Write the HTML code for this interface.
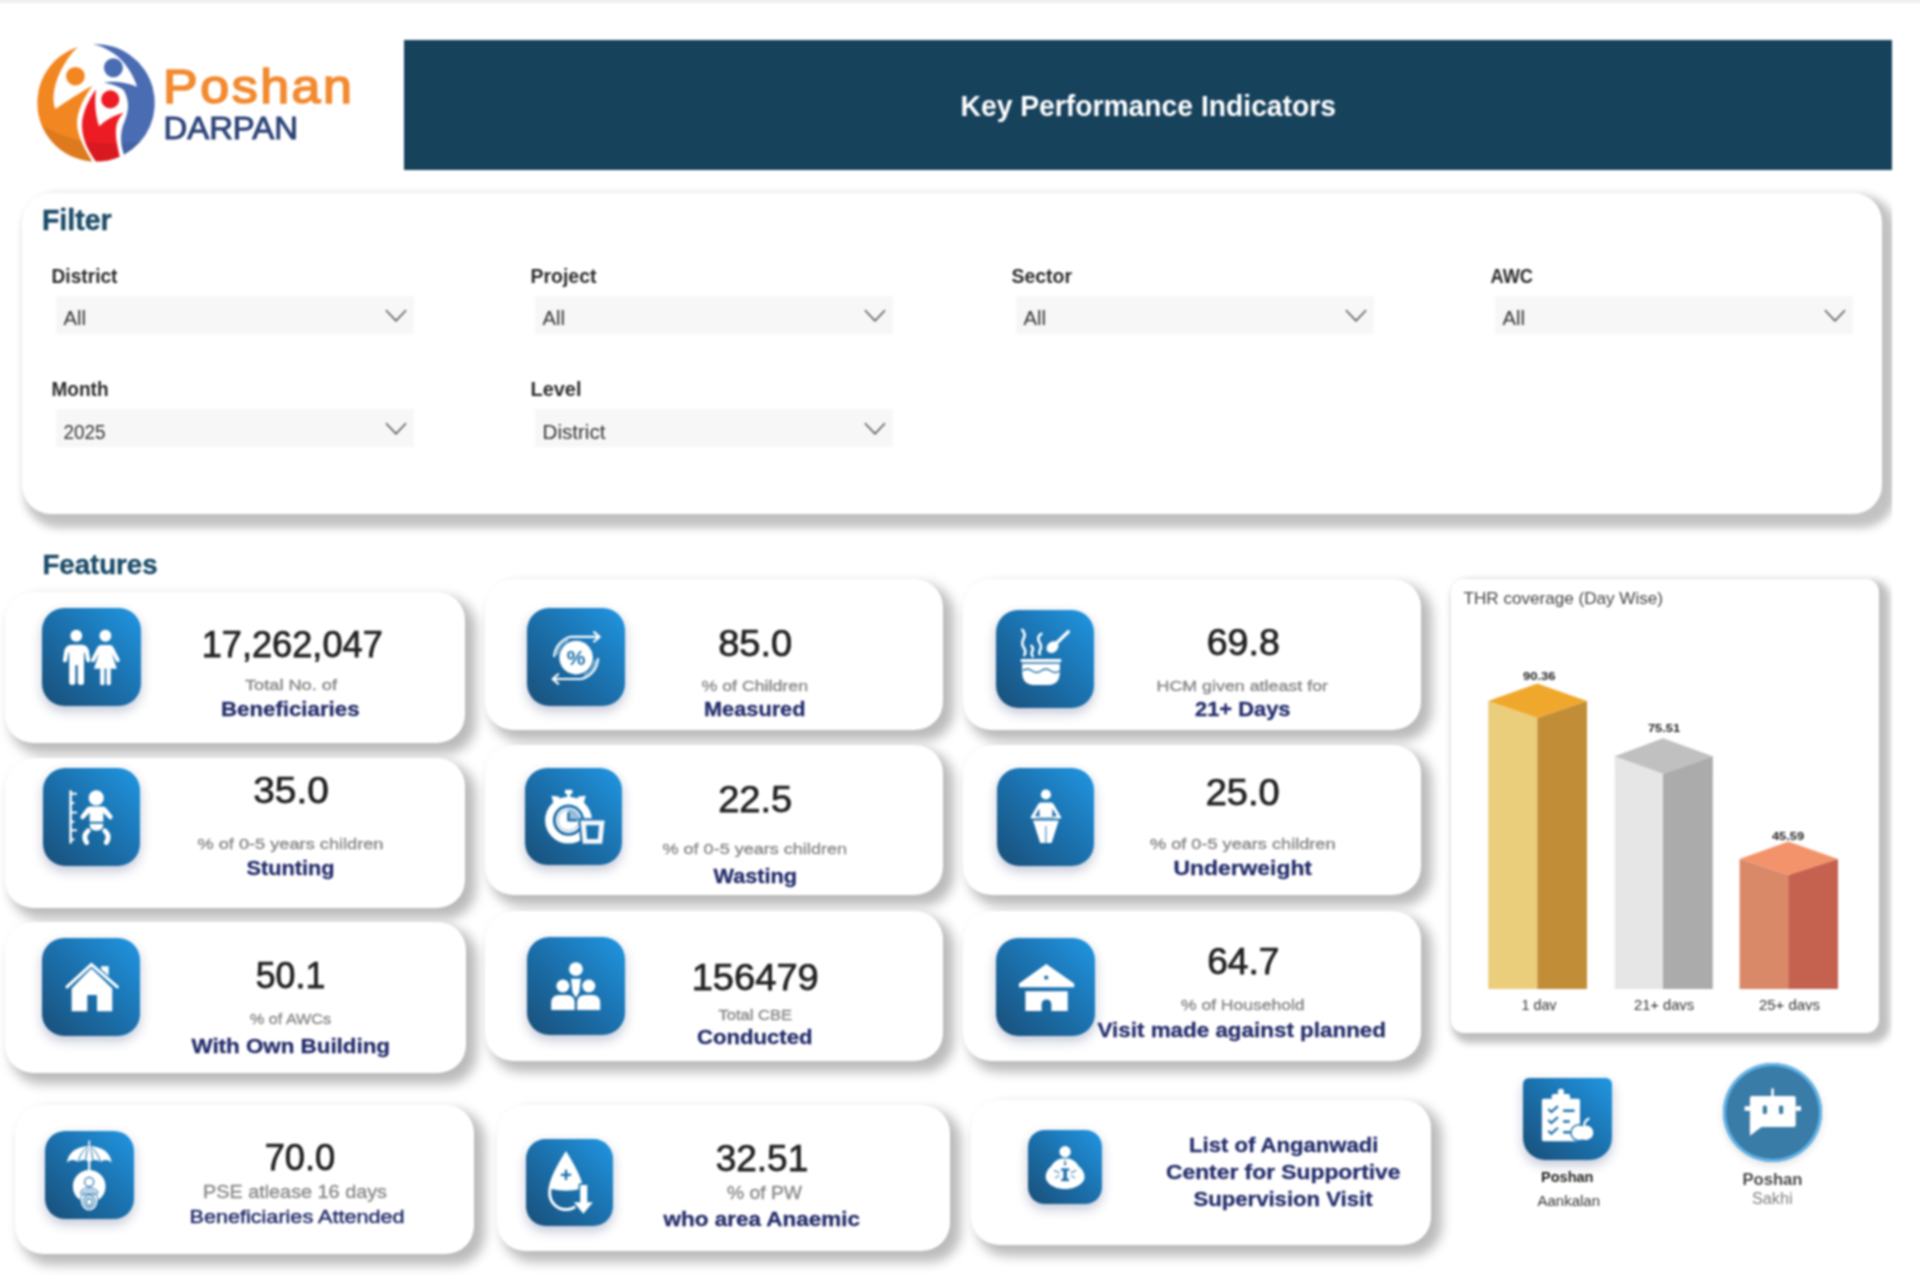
<!DOCTYPE html>
<html lang="en"><head><meta charset="utf-8"><title>Poshan Darpan - Key Performance Indicators</title>
<style>
html,body{margin:0;padding:0;background:#fff}
body{width:1920px;height:1279px;position:relative;overflow:hidden;font-family:"Liberation Sans",sans-serif}
.page{position:absolute;left:0;top:0;width:1920px;height:1279px;filter:blur(.8px)}
.topline{position:absolute;left:-10px;top:-7px;width:1940px;height:10px;background:#efefef}
.hdr{position:absolute;left:404px;top:40px;width:1488px;height:130px;background:#17425c}
.panel{position:absolute;background:#fff;border-radius:29px;box-shadow:8px 8px 9px 6px rgba(0,0,0,.24),0 0 2px rgba(0,0,0,.06)}
.card{position:absolute;background:#fff;border-radius:28px;box-shadow:8px 8px 12px 3px rgba(0,0,0,.27),0 0 1.5px rgba(0,0,0,.06)}
.chart{position:absolute;background:#fff;border-radius:13px;box-shadow:6px 5.5px 7px 4.5px rgba(0,0,0,.25),0 0 2px rgba(0,0,0,.06)}
.clipr{position:absolute;left:1892px;top:3px;width:28px;height:1276px;background:#fff}
.tile{position:absolute;border-radius:22px;background:linear-gradient(to bottom left,#2096e2 0%,#1b70ac 50%,#194f79 100%);box-shadow:0 5px 12px rgba(40,55,110,.28)}
.dd{position:absolute;background:#f7f7f7;width:358px;height:38px}
svg.ov{position:absolute;left:0;top:0}
</style></head><body><div class="page">
<div class="topline"></div>
<div class="hdr"></div>
<div class="panel" style="left:22px;top:193px;width:1860px;height:321px;"></div>
<div class="dd" style="left:55.5px;top:296px;width:358px;height:38px;"></div>
<div class="dd" style="left:534.5px;top:296px;width:358px;height:38px;"></div>
<div class="dd" style="left:1015.5px;top:296px;width:358px;height:38px;"></div>
<div class="dd" style="left:1494.5px;top:296px;width:358px;height:38px;"></div>
<div class="dd" style="left:55.5px;top:409px;width:358px;height:38px;"></div>
<div class="dd" style="left:534.5px;top:409px;width:358px;height:38px;"></div>
<div class="card" style="left:5px;top:592px;width:460px;height:151px;"></div>
<div class="card" style="left:485px;top:579px;width:458px;height:151px;"></div>
<div class="card" style="left:962.5px;top:579px;width:458px;height:151px;"></div>
<div class="card" style="left:5px;top:758px;width:460px;height:150px;"></div>
<div class="card" style="left:485px;top:745px;width:458px;height:150px;"></div>
<div class="card" style="left:962.5px;top:745px;width:458px;height:150px;"></div>
<div class="card" style="left:5px;top:922px;width:461px;height:151px;"></div>
<div class="card" style="left:485px;top:910.5px;width:458px;height:150px;"></div>
<div class="card" style="left:962.5px;top:910.5px;width:458px;height:150px;"></div>
<div class="card" style="left:15px;top:1104.5px;width:459px;height:149.5px;"></div>
<div class="card" style="left:497px;top:1104.5px;width:453px;height:146.5px;"></div>
<div class="card" style="left:971px;top:1100px;width:460px;height:145px;"></div>
<div class="tile" style="left:42.3px;top:607.5px;width:98.3px;height:98.3px;border-radius:22.1px"></div>
<div class="tile" style="left:527.3px;top:607.8px;width:98px;height:98px;border-radius:22.1px"></div>
<div class="tile" style="left:996.3px;top:609.8px;width:98px;height:98px;border-radius:22.1px"></div>
<div class="tile" style="left:42.5px;top:768px;width:97.7px;height:97.7px;border-radius:22.0px"></div>
<div class="tile" style="left:525.2px;top:768.2px;width:97.2px;height:97.2px;border-radius:21.9px"></div>
<div class="tile" style="left:996.8px;top:768.2px;width:97.6px;height:97.6px;border-radius:22.0px"></div>
<div class="tile" style="left:42.4px;top:938.2px;width:97.8px;height:97.8px;border-radius:22.0px"></div>
<div class="tile" style="left:527.3px;top:937.2px;width:98px;height:98px;border-radius:22.1px"></div>
<div class="tile" style="left:996.3px;top:937.8px;width:98.3px;height:98.3px;border-radius:22.1px"></div>
<div class="tile" style="left:45px;top:1130.5px;width:88.7px;height:88.7px;border-radius:20.0px"></div>
<div class="tile" style="left:525.8px;top:1138.8px;width:87px;height:87px;border-radius:19.6px"></div>
<div class="tile" style="left:1028px;top:1130.4px;width:73.6px;height:73.6px;border-radius:16.6px"></div>
<div class="chart" style="left:1451px;top:578.5px;width:427.5px;height:454.5px;"></div>
<div class="clipr"></div>
<div class="tile" style="left:1522.5px;top:1077.5px;width:89.5px;height:82.5px;border-radius:6px 6px 22px 22px;background:linear-gradient(to bottom left,#2096e2 0%,#1b70ac 50%,#194f79 100%)"></div>
<div style="position:absolute;left:1723.3px;top:1063.3px;width:99px;height:99px;border-radius:50%;background:#3a7ca8;box-shadow:inset 0 0 0 3px #62b4ea,0 3px 8px rgba(0,0,0,.12)"></div>
<svg class="ov" width="1920" height="1279" viewBox="0 0 1920 1279" font-family='"Liberation Sans", sans-serif'>
<text x="960.5" y="116.4" font-size="29.5" fill="#fff" font-weight="bold" textLength="375.5" lengthAdjust="spacingAndGlyphs">Key Performance Indicators</text>
<text x="163" y="102.5" font-size="48" fill="#f28a30" textLength="191.5" lengthAdjust="spacingAndGlyphs" stroke="#f28a30" stroke-width="1.7" letter-spacing="2.4">Poshan</text>
<text x="163.5" y="138.8" font-size="31.5" fill="#2d4479" textLength="134.5" lengthAdjust="spacingAndGlyphs" stroke="#2d4479" stroke-width="1.0">DARPAN</text>
<text x="42" y="229.5" font-size="29.5" fill="#1b4b68" font-weight="bold" textLength="69.5" lengthAdjust="spacingAndGlyphs" stroke="#1b4b68" stroke-width="0.4">Filter</text>
<text x="51.5" y="283" font-size="21" fill="#2b2b2b" font-weight="bold" textLength="66.0" lengthAdjust="spacingAndGlyphs">District</text>
<text x="63.5" y="325.3" font-size="20.5" fill="#333" textLength="22.5" lengthAdjust="spacingAndGlyphs">All</text>
<text x="530.5" y="283" font-size="21" fill="#2b2b2b" font-weight="bold" textLength="66.0" lengthAdjust="spacingAndGlyphs">Project</text>
<text x="542.5" y="325.3" font-size="20.5" fill="#333" textLength="22.5" lengthAdjust="spacingAndGlyphs">All</text>
<text x="1011.5" y="283" font-size="21" fill="#2b2b2b" font-weight="bold" textLength="60.5" lengthAdjust="spacingAndGlyphs">Sector</text>
<text x="1023.5" y="325.3" font-size="20.5" fill="#333" textLength="22.5" lengthAdjust="spacingAndGlyphs">All</text>
<text x="1490.5" y="283" font-size="21" fill="#2b2b2b" font-weight="bold" textLength="42.5" lengthAdjust="spacingAndGlyphs">AWC</text>
<text x="1502.5" y="325.3" font-size="20.5" fill="#333" textLength="22.5" lengthAdjust="spacingAndGlyphs">All</text>
<text x="51.5" y="396" font-size="21" fill="#2b2b2b" font-weight="bold" textLength="57.0" lengthAdjust="spacingAndGlyphs">Month</text>
<text x="63.5" y="438.5" font-size="20.5" fill="#333" textLength="42.0" lengthAdjust="spacingAndGlyphs">2025</text>
<text x="530.5" y="396" font-size="21" fill="#2b2b2b" font-weight="bold" textLength="51.0" lengthAdjust="spacingAndGlyphs">Level</text>
<text x="542.5" y="438.5" font-size="20.5" fill="#333" textLength="63.0" lengthAdjust="spacingAndGlyphs">District</text>
<polyline points="386.0,310.2 396.0,320.8 406.0,310.2" fill="none" stroke="#5a5a5a" stroke-width="1.6"/>
<polyline points="865.0,310.2 875.0,320.8 885.0,310.2" fill="none" stroke="#5a5a5a" stroke-width="1.6"/>
<polyline points="1346.0,310.2 1356.0,320.8 1366.0,310.2" fill="none" stroke="#5a5a5a" stroke-width="1.6"/>
<polyline points="1825.0,310.2 1835.0,320.8 1845.0,310.2" fill="none" stroke="#5a5a5a" stroke-width="1.6"/>
<polyline points="386.0,423.2 396.0,433.8 406.0,423.2" fill="none" stroke="#5a5a5a" stroke-width="1.6"/>
<polyline points="865.0,423.2 875.0,433.8 885.0,423.2" fill="none" stroke="#5a5a5a" stroke-width="1.6"/>
<text x="42.5" y="573.8" font-size="28.5" fill="#1b4b68" font-weight="bold" textLength="115.0" lengthAdjust="spacingAndGlyphs" stroke="#1b4b68" stroke-width="0.4">Features</text>
<text x="201.7" y="656.9" font-size="36.5" fill="#222" textLength="181.1" lengthAdjust="spacingAndGlyphs" stroke="#222" stroke-width="0.75">17,262,047</text>
<text x="245" y="690" font-size="15.5" fill="#8a8a8a" textLength="92" lengthAdjust="spacingAndGlyphs" stroke="#8a8a8a" stroke-width="0.4">Total No. of</text>
<text x="221" y="716.4" font-size="20.5" fill="#232c6a" font-weight="bold" textLength="138.5" lengthAdjust="spacingAndGlyphs" stroke="#232c6a" stroke-width="0.3">Beneficiaries</text>
<text x="718.2" y="655.8" font-size="36" fill="#222" textLength="74.1" lengthAdjust="spacingAndGlyphs" stroke="#222" stroke-width="0.75">85.0</text>
<text x="701.5" y="690.6" font-size="15.5" fill="#8a8a8a" textLength="106.5" lengthAdjust="spacingAndGlyphs" stroke="#8a8a8a" stroke-width="0.4">% of Children</text>
<text x="704" y="716.4" font-size="20.5" fill="#232c6a" font-weight="bold" textLength="101.5" lengthAdjust="spacingAndGlyphs" stroke="#232c6a" stroke-width="0.3">Measured</text>
<text x="1206.7" y="654.9" font-size="36" fill="#222" textLength="73.1" lengthAdjust="spacingAndGlyphs" stroke="#222" stroke-width="0.75">69.8</text>
<text x="1156.5" y="690.6" font-size="15.5" fill="#8a8a8a" textLength="171.5" lengthAdjust="spacingAndGlyphs" stroke="#8a8a8a" stroke-width="0.4">HCM given atleast for</text>
<text x="1195" y="716.4" font-size="20.5" fill="#232c6a" font-weight="bold" textLength="95.5" lengthAdjust="spacingAndGlyphs" stroke="#232c6a" stroke-width="0.3">21+ Days</text>
<text x="253.2" y="803.3" font-size="36.5" fill="#222" textLength="75.6" lengthAdjust="spacingAndGlyphs" stroke="#222" stroke-width="0.75">35.0</text>
<text x="197.5" y="849" font-size="15.5" fill="#8a8a8a" textLength="186.0" lengthAdjust="spacingAndGlyphs" stroke="#8a8a8a" stroke-width="0.4">% of 0-5 years children</text>
<text x="246.5" y="875.3" font-size="20.5" fill="#232c6a" font-weight="bold" textLength="88.0" lengthAdjust="spacingAndGlyphs" stroke="#232c6a" stroke-width="0.3">Stunting</text>
<text x="718.2" y="812.0" font-size="36.5" fill="#222" textLength="74.1" lengthAdjust="spacingAndGlyphs" stroke="#222" stroke-width="0.75">22.5</text>
<text x="662.5" y="854" font-size="15.5" fill="#8a8a8a" textLength="184.5" lengthAdjust="spacingAndGlyphs" stroke="#8a8a8a" stroke-width="0.4">% of 0-5 years children</text>
<text x="713.5" y="882.8" font-size="20.5" fill="#232c6a" font-weight="bold" textLength="83.5" lengthAdjust="spacingAndGlyphs" stroke="#232c6a" stroke-width="0.3">Wasting</text>
<text x="1205.7" y="805.0" font-size="36" fill="#222" textLength="74.1" lengthAdjust="spacingAndGlyphs" stroke="#222" stroke-width="0.75">25.0</text>
<text x="1150" y="849" font-size="15.5" fill="#8a8a8a" textLength="185.5" lengthAdjust="spacingAndGlyphs" stroke="#8a8a8a" stroke-width="0.4">% of 0-5 years children</text>
<text x="1173.5" y="874.8" font-size="20.5" fill="#232c6a" font-weight="bold" textLength="138.5" lengthAdjust="spacingAndGlyphs" stroke="#232c6a" stroke-width="0.3">Underweight</text>
<text x="255.7" y="988.2" font-size="36.5" fill="#222" textLength="69.6" lengthAdjust="spacingAndGlyphs" stroke="#222" stroke-width="0.75">50.1</text>
<text x="250" y="1024.4" font-size="15.5" fill="#8a8a8a" textLength="81" lengthAdjust="spacingAndGlyphs" stroke="#8a8a8a" stroke-width="0.4">% of AWCs</text>
<text x="191.5" y="1052.6" font-size="20.5" fill="#232c6a" font-weight="bold" textLength="198.5" lengthAdjust="spacingAndGlyphs" stroke="#232c6a" stroke-width="0.3">With Own Building</text>
<text x="691.7" y="989.7" font-size="36.5" fill="#222" textLength="127.1" lengthAdjust="spacingAndGlyphs" stroke="#222" stroke-width="0.75">156479</text>
<text x="718.5" y="1020" font-size="15.5" fill="#8a8a8a" textLength="73.5" lengthAdjust="spacingAndGlyphs" stroke="#8a8a8a" stroke-width="0.4">Total CBE</text>
<text x="697" y="1044.3" font-size="20.5" fill="#232c6a" font-weight="bold" textLength="115.5" lengthAdjust="spacingAndGlyphs" stroke="#232c6a" stroke-width="0.3">Conducted</text>
<text x="1207.2" y="974.0" font-size="36" fill="#222" textLength="72.1" lengthAdjust="spacingAndGlyphs" stroke="#222" stroke-width="0.75">64.7</text>
<text x="1181" y="1010.2" font-size="15.5" fill="#8a8a8a" textLength="123.5" lengthAdjust="spacingAndGlyphs" stroke="#8a8a8a" stroke-width="0.4">% of Household</text>
<text x="1097.5" y="1036.9" font-size="20.5" fill="#232c6a" font-weight="bold" textLength="288.5" lengthAdjust="spacingAndGlyphs" stroke="#232c6a" stroke-width="0.3">Visit made against planned</text>
<text x="264.7" y="1169.5" font-size="36" fill="#222" textLength="70.6" lengthAdjust="spacingAndGlyphs" stroke="#222" stroke-width="0.75">70.0</text>
<text x="203" y="1197.8" font-size="19" fill="#8a8a8a" textLength="184" lengthAdjust="spacingAndGlyphs" stroke="#8a8a8a" stroke-width="0.4">PSE atlease 16 days</text>
<text x="189.5" y="1223" font-size="19" fill="#232c6a" textLength="215.0" lengthAdjust="spacingAndGlyphs" stroke="#232c6a" stroke-width="0.5">Beneficiaries Attended</text>
<text x="715.7" y="1171.3" font-size="36" fill="#222" textLength="92.6" lengthAdjust="spacingAndGlyphs" stroke="#222" stroke-width="0.75">32.51</text>
<text x="727" y="1199.3" font-size="19" fill="#8a8a8a" textLength="75" lengthAdjust="spacingAndGlyphs" stroke="#8a8a8a" stroke-width="0.4">% of PW</text>
<text x="663.5" y="1226" font-size="19.5" fill="#232c6a" font-weight="bold" textLength="196.5" lengthAdjust="spacingAndGlyphs" stroke="#232c6a" stroke-width="0.3">who area Anaemic</text>
<text x="1189" y="1151.9" font-size="20.5" fill="#232c6a" font-weight="bold" textLength="189.5" lengthAdjust="spacingAndGlyphs" stroke="#232c6a" stroke-width="0.3">List of Anganwadi</text>
<text x="1166" y="1179" font-size="20.5" fill="#232c6a" font-weight="bold" textLength="234.5" lengthAdjust="spacingAndGlyphs" stroke="#232c6a" stroke-width="0.3">Center for Supportive</text>
<text x="1193.5" y="1206" font-size="20.5" fill="#232c6a" font-weight="bold" textLength="179.0" lengthAdjust="spacingAndGlyphs" stroke="#232c6a" stroke-width="0.3">Supervision Visit</text>
<text x="1463.5" y="603.5" font-size="17" fill="#444" textLength="199.5" lengthAdjust="spacingAndGlyphs">THR coverage (Day Wise)</text>
<polygon points="1488.2,701 1537.3,717.9 1537.3,989 1488.2,989" fill="#ebce7c"/>
<polygon points="1537.3,717.9 1587,701 1587,989 1537.3,989" fill="#c18d36"/>
<polygon points="1488.2,701 1537.3,683.4 1587,701 1537.3,717.9" fill="#efa82c"/>
<polygon points="1614.7,756.2 1663,773.8 1663,989 1614.7,989" fill="#e6e6e6"/>
<polygon points="1663,773.8 1712.8,756.2 1712.8,989 1663,989" fill="#ababab"/>
<polygon points="1614.7,756.2 1663,738.2 1712.8,756.2 1663,773.8" fill="#c0c0c0"/>
<polygon points="1739.6,858.9 1788.2,875 1788.2,989 1739.6,989" fill="#d98868"/>
<polygon points="1788.2,875 1838,858.9 1838,989 1788.2,989" fill="#c4614f"/>
<polygon points="1739.6,858.9 1788.2,841.6 1838,858.9 1788.2,875" fill="#f3936b"/>
<text x="1523" y="679.5" font-size="11.5" fill="#222" font-weight="bold" textLength="32.5" lengthAdjust="spacingAndGlyphs">90.36</text>
<text x="1648" y="732" font-size="11.5" fill="#222" font-weight="bold" textLength="32" lengthAdjust="spacingAndGlyphs">75.51</text>
<text x="1772" y="840" font-size="11.5" fill="#222" font-weight="bold" textLength="32" lengthAdjust="spacingAndGlyphs">45.59</text>
<clipPath id="axc"><rect x="1460" y="990" width="410" height="20.5"/></clipPath>
<g clip-path="url(#axc)">
<text x="1521.5" y="1010" font-size="14.5" fill="#333" textLength="35.0" lengthAdjust="spacingAndGlyphs">1 day</text>
<text x="1634" y="1010" font-size="14.5" fill="#333" textLength="60" lengthAdjust="spacingAndGlyphs">21+ days</text>
<text x="1759" y="1010" font-size="14.5" fill="#333" textLength="61" lengthAdjust="spacingAndGlyphs">25+ days</text>
</g>
<text x="1541" y="1182" font-size="15" fill="#222" font-weight="bold" textLength="52.5" lengthAdjust="spacingAndGlyphs">Poshan</text>
<text x="1537.5" y="1205.8" font-size="14" fill="#333" textLength="62.5" lengthAdjust="spacingAndGlyphs">Aankalan</text>
<text x="1742.5" y="1185" font-size="16" fill="#4a4a4a" font-weight="bold" textLength="60.0" lengthAdjust="spacingAndGlyphs">Poshan</text>
<text x="1752" y="1203.6" font-size="16" fill="#808080" textLength="40.5" lengthAdjust="spacingAndGlyphs">Sakhi</text>
<g transform="translate(42.3,607.5) scale(1.0031)" fill="#fff"><circle cx="33.9" cy="28.2" r="5.9"/>
<path d="M30,37.2H38.5Q44.5,37.2 46.4,42.5L47.8,52Q48,54.6 45.8,54.6Q43.9,54.6 43.6,52.5L42.4,45H41.6V74.8Q41.6,77.2 38.5,77.2Q35.3,77.2 35.3,74.8V57.5H33V74.8Q33,77.2 29.9,77.2Q26.8,77.2 26.8,74.8V45H26L24.8,52.5Q24.5,54.6 22.6,54.6Q20.4,54.6 20.6,52L22,42.5Q23.9,37.2 30,37.2Z"/>
<circle cx="62.9" cy="28.2" r="5.9"/>
<path d="M58.5,37.5H67.3Q70,37.5 71,40L77,51.5Q77.8,53.6 76,54.3Q74.3,55 73.3,53L69.3,45.5L74.3,61H51.5L56.5,45.5L52.5,53Q51.5,55 49.8,54.3Q48,53.6 48.8,51.5L54.8,40Q55.8,37.5 58.5,37.5Z"/>
<rect x="57.7" y="60" width="4.4" height="17.4" rx="2"/><rect x="63.9" y="60" width="4.4" height="17.4" rx="2"/></g>
<g transform="translate(42.5,768) scale(0.9969)" fill="#fff"><rect x="27" y="22.4" width="2.5" height="53.3"/>
<g stroke="#fff" stroke-width="2"><path d="M28,25.9H34.5M28,35H32M28,44.7H34.5M28,53.9H32M28,62.5H34.5M28,71.7H32"/></g>
<circle cx="53.9" cy="30" r="7.6"/>
<path d="M48,38.6H60Q63,38.6 64.5,40.8L70,48Q71,50 69.3,51.2Q67.5,52.2 66.2,50.5L61,45V54H47.3V45L42,50.5Q40.7,52.2 39,51.2Q37.3,50 38.3,48L43.7,40.8Q45,38.6 48,38.6Z"/>
<path d="M47.3,56H61Q61,63 54.1,63Q47.3,63 47.3,56Z"/>
<g fill="none" stroke="#fff" stroke-width="5" stroke-linecap="round"><path d="M45.8,63Q40,68.5 44.2,74.7"/><path d="M62.5,63Q68.3,68.5 64.1,74.7"/></g></g>
<g transform="translate(42.4,938.2) scale(0.9980)" fill="#fff"><mask id="mk6" maskUnits="userSpaceOnUse" x="0" y="0" width="98" height="98"><rect width="98" height="98" fill="#fff"/><polyline points="22,51.3 49.1,26.4 77.7,51.3" fill="none" stroke="#000" stroke-width="5.8"/></mask>
<g mask="url(#mk6)"><polygon points="58.8,28 66.4,28 66.4,44 58.8,37"/>
<polygon points="29.3,50.5 49.1,30 70,50.5 70,73.2 54.7,73.2 54.7,57 45,57 45,73.2 29.3,73.2"/></g>
<polyline points="24.7,48.8 49.1,26.4 75,48.8" fill="none" stroke="#fff" stroke-width="3.2" stroke-linecap="round"/></g>
<g transform="translate(45,1130.5) scale(1.0000)" fill="#fff"><rect x="43.4" y="10" width="1.7" height="6"/>
<path d="M21.9,32Q24,17 44.2,15.2Q64.5,17 66.6,32Q61,27.5 55.5,31.5Q50,27.5 44.2,31.5Q38.5,27.5 33,31.5Q27.5,27.5 21.9,32Z"/>
<g fill="none" stroke="#1c6fab" stroke-width="1"><path d="M44.2,15.5Q36,20 33,31.5M44.2,15.5Q52,20 55.5,31.5M44.2,15.5Q41,22 40.5,30M44.2,15.5Q47.5,22 48,30"/></g>
<rect x="43.1" y="15.5" width="2.2" height="25"/>
<circle cx="44.2" cy="55.9" r="16.3"/>
<ellipse cx="44.2" cy="70" rx="9.3" ry="10.6" fill="#1c6fab"/>
<ellipse cx="44.2" cy="70" rx="8.3" ry="9.8"/>
<g fill="none" stroke="#1c6fab" stroke-width="1.1"><circle cx="44.2" cy="51.5" r="4.6"/><path d="M35.5,63.5Q36,57.5 44.2,57.5Q52.5,57.5 53,63.5"/>
<ellipse cx="44.2" cy="71" rx="5.6" ry="6.6"/><ellipse cx="44.2" cy="71.5" rx="2.8" ry="3.6"/><path d="M38,64.5Q44.2,61 50.5,64.5"/></g></g>
<g transform="translate(527.3,607.8) scale(1.0000)" fill="#fff"><circle cx="48.8" cy="49.8" r="16.8"/>
<text x="48.8" y="57.2" font-size="21" font-weight="bold" fill="#1c6fab" text-anchor="middle">%</text>
<g fill="none" stroke="#fff" stroke-width="2.2" stroke-linecap="round" stroke-linejoin="round">
<path d="M26.9,48.3A21.9,21.9 0 0 1 43.7,29H71"/><path d="M66.8,24.3L72.3,29L66.8,33.7"/>
<path d="M70.6,51.3A21.9,21.9 0 0 1 53.9,71.2H26.5"/><path d="M30.8,66.5L25.3,71.2L30.8,75.9"/></g>
<g fill="none" stroke="#fff" stroke-width="1"><path d="M29.8,47A19.2,19.2 0 0 1 41,32.3"/><path d="M67.8,52.5A19.2,19.2 0 0 1 56.5,67.4"/></g></g>
<g transform="translate(525.2,768.2) scale(1.0000)" fill="#fff"><mask id="mk4" maskUnits="userSpaceOnUse" x="0" y="0" width="98" height="98"><rect width="98" height="98" fill="#fff"/><polygon points="53,50 81.5,50 79,78 55.5,78" fill="#000"/></mask>
<rect x="39.8" y="21.6" width="7.4" height="4.2" rx="0.8"/><rect x="41.9" y="25" width="3.2" height="5"/>
<path d="M26.2,27.6L33.5,28.2L36,33L29,37.5ZM60.6,27.6L53.3,28.2L50.8,33L57.8,37.5Z"/>
<g mask="url(#mk4)"><circle cx="43.3" cy="52" r="19.5" fill="none" stroke="#fff" stroke-width="7.8"/>
<circle cx="43.3" cy="52" r="12.7"/>
<circle cx="43.3" cy="52" r="10.6" fill="none" stroke="#1c6fab" stroke-width="1" opacity=".55"/>
<path d="M43.3,52V41.4A10.6,10.6 0 0 1 53.9,52Z" fill="#1c6fab" opacity=".45"/>
<path d="M43.3,44V52H52" fill="none" stroke="#1c6fab" stroke-width="2.6"/></g>
<path fill-rule="evenodd" d="M55.2,52.4H79.4L77,75.6H57.6ZM60.8,57L61.9,70.8H72.7L73.8,57Z" opacity=".95"/></g>
<g transform="translate(527.3,937.2) scale(1.0000)" fill="#fff"><mask id="mk7" maskUnits="userSpaceOnUse" x="0" y="0" width="98" height="98"><rect width="98" height="98" fill="#fff"/><circle cx="35.6" cy="48.8" r="7.7" fill="#000"/><circle cx="61.5" cy="48.8" r="7.7" fill="#000"/><path d="M22.9,73.7V66Q22.9,56.9 32,56.9H39.5Q48.4,56.9 48.4,66V73.7Z" fill="#000"/><path d="M48.8,73.7V66Q48.8,56.9 57.7,56.9H65Q73.9,56.9 73.9,66V73.7Z" fill="#000"/></mask>
<circle cx="48.6" cy="32" r="6.9"/>
<polygon points="43.7,41.5 53.5,41.5 52,55 48.6,60.5 45.2,55" mask="url(#mk7)"/>
<circle cx="35.6" cy="48.8" r="6.5"/><circle cx="61.5" cy="48.8" r="6.5"/>
<path d="M23.9,72.7V66Q23.9,57.9 32,57.9H39.5Q47.4,57.9 47.4,66V72.7Z"/>
<path d="M49.8,72.7V66Q49.8,57.9 57.7,57.9H65Q72.9,57.9 72.9,66V72.7Z"/></g>
<g transform="translate(525.8,1138.8) scale(1.0000)" fill="#fff"><mask id="mk10" maskUnits="userSpaceOnUse" x="0" y="0" width="87" height="87"><rect width="87" height="87" fill="#fff"/><polygon points="54.4,46.2 61.5,46.2 61.5,63.5 67.1,63.5 57.6,74.9 48,63.5 54.4,63.5" fill="#000" stroke="#000" stroke-width="3.4" stroke-linejoin="round"/></mask>
<g mask="url(#mk10)"><path fill-rule="evenodd" d="M40.2,12.2C47,24 57.9,40 57.9,54.5A17.75,17.75 0 0 1 22.4,54.5C22.4,40 33,24 40.2,12.2ZM25.5,50.3L25.4,54.5A14.8,14.8 0 0 0 55,54.5L54.9,50.3Q40,53.6 25.5,50.3Z"/></g>
<path d="M35,36.1H45.4M40.2,30.9V41.3" stroke="#1c6fab" stroke-width="2.4" fill="none"/>
<polygon points="54.4,46.2 61.5,46.2 61.5,63.5 67.1,63.5 57.6,74.9 48,63.5 54.4,63.5"/></g>
<g transform="translate(996.3,609.8) scale(1.0000)" fill="#fff"><rect x="24.4" y="49.2" width="40.6" height="3.3" rx="1"/>
<path d="M25.9,54H63.5V62Q63.5,75.2 52,75.2H37.5Q25.9,75.2 25.9,62Z"/>
<path d="M26.5,61Q31,57.5 35.7,61T45,61T54.3,61T63.5,61" fill="none" stroke="#1c6fab" stroke-width="1.4"/>
<g fill="none" stroke="#fff" stroke-width="2.6" stroke-linecap="round">
<path d="M26,20Q29.8,24 27.2,29Q24.6,34 28,38.5Q30,42 28,45.4"/>
<path d="M35.2,36Q37.6,38.5 36,41.2Q34.6,44 36.4,46.4"/>
<path d="M45,24Q40.3,27 43,32Q46,37 43.6,40.5Q42.4,42.5 43.4,44.4"/>
<path d="M59.5,34L72,22" stroke-width="3.4"/></g>
<ellipse cx="56.2" cy="37.3" rx="6.6" ry="5.2" transform="rotate(-42 56.2 37.3)"/></g>
<g transform="translate(996.8,768.2) scale(0.9959)" fill="#fff"><circle cx="49.3" cy="26.4" r="5.1"/>
<path d="M44.5,34.4H54.1Q56.3,34.4 57.3,36.5L64.6,49.2Q65,50.4 63.8,50.4H34.8Q33.6,50.4 34,49.2L41.3,36.5Q42.3,34.4 44.5,34.4Z"/>
<polygon points="38.3,48.3 42.6,40.5 43,48.3" fill="#1c6fab"/><polygon points="60.3,48.3 56,40.5 55.6,48.3" fill="#1c6fab"/>
<rect x="41" y="49" width="16.6" height="1.2" fill="#1c6fab" opacity=".45"/>
<polygon points="36.4,52.4 62.2,52.4 55,75.2 43.6,75.2"/>
<rect x="48.7" y="58" width="1.2" height="17.2" fill="#1c6fab" opacity=".8"/></g>
<g transform="translate(996.3,937.8) scale(1.0031)" fill="#fff"><polygon points="49.8,26 77.6,45.5 77.6,49.2 22.6,49.2 22.6,45.5"/>
<circle cx="49.8" cy="39.6" r="2.1" fill="#1c6fab"/>
<path d="M29,53.2H71.2V72.9H54.9V66.3A4.85,4.85 0 0 0 45.2,66.3V72.9H29Z"/></g>
<g transform="translate(1028,1130.4) scale(1.0000)" fill="#fff"><circle cx="37.1" cy="21.3" r="5.7"/>
<path d="M37.1,27.8C44,27.8 48,31 51,36C56,40 57.8,46 55.8,50C52,56 44,58.6 37.1,58.6C30,58.6 22,56 18.6,50C16.6,46 18,40 23,36C26,31 30,27.8 37.1,27.8Z"/>
<g fill="#1c6fab"><rect x="35.4" y="39" width="3.5" height="10"/><rect x="33" y="38" width="8.3" height="2.3"/><rect x="33.3" y="48.3" width="7.7" height="2.4"/><circle cx="37.1" cy="33.6" r="1.3"/></g>
<g stroke="#1c6fab" stroke-width="1.2" fill="none" opacity=".75"><path d="M31.5,42.5L26,40M31.5,45L27,47.5M42.8,42.5L48.2,40M42.8,45L47.2,47.5M37.1,29V32.5"/></g></g>
<g transform="translate(1522.5,1077.5) scale(1.0000)" fill="#fff"><rect x="19.4" y="21.3" width="38.1" height="42.5" rx="1.8"/>
<rect x="29.2" y="16.6" width="18.4" height="5.6" rx="2.2"/><circle cx="38.4" cy="14.4" r="3.1"/>
<g fill="none" stroke="#1c6fab" stroke-width="2.1"><path d="M25.8,31.6L28.8,34.6L35.4,28.6M25.8,42.6L28.8,45.6L35.4,39.6M25.8,53.3L28.8,56.3L35.4,50.3"/>
<path d="M40.7,33.2H52M40.7,44H47.2M40.7,54.8H48" stroke-width="2.6"/></g>
<g stroke="#1c6fab" stroke-width="3"><circle cx="56.4" cy="55.2" r="7.2"/><circle cx="63.6" cy="55.2" r="7.2"/></g>
<circle cx="56.4" cy="55.2" r="7.2"/><circle cx="63.6" cy="55.2" r="7.2"/><rect x="55" y="52" width="10" height="10"/>
<path d="M61.5,47.5Q62.5,43 66,41.2" fill="none" stroke="#fff" stroke-width="2.2" stroke-linecap="round"/></g>
<g fill="#fff"><rect x="1749.9" y="1095.9" width="45.8" height="31.2" rx="2"/>
<polygon points="1749.9,1124 1749.9,1135.8 1761.5,1127.1"/>
<rect x="1771.3" y="1088.4" width="2.5" height="8"/>
<rect x="1744.6" y="1106.2" width="5.5" height="4.6"/><rect x="1795.5" y="1106.2" width="5.5" height="4.6"/>
<rect x="1762.8" y="1105.6" width="4.2" height="8.4" rx="1.6" fill="#3a7ca8"/><rect x="1779" y="1105.6" width="4.2" height="8.4" rx="1.6" fill="#3a7ca8"/></g>
<g transform="translate(30,35) scale(0.10559)">
<clipPath id="lgc"><path d="M455,113A557,557 0 0 0 590,1199C530,1100 450,960 446,850C440,720 520,580 592,478C480,540 330,640 240,702C200,600 230,430 330,270C370,200 410,150 455,113Z"/><path d="M595,88A557,557 0 0 1 890,1134C860,1040 850,960 880,860C920,760 960,660 890,525C850,490 780,465 700,450C800,432 900,448 1015,490C980,380 900,250 800,180C730,130 660,100 595,88Z"/><path d="M625,515C560,600 490,740 492,860C495,1000 560,1110 625,1199A557,557 0 0 0 850,1153C830,1060 800,950 820,850C835,800 860,760 887,733C800,760 720,800 655,865C620,760 610,640 625,515Z"/></clipPath>
<path d="M455,113A557,557 0 0 0 590,1199C530,1100 450,960 446,850C440,720 520,580 592,478C480,540 330,640 240,702C200,600 230,430 330,270C370,200 410,150 455,113Z" fill="#f28620"/><circle cx="430" cy="390" r="88" fill="#f28620"/>
<path d="M595,88A557,557 0 0 1 890,1134C860,1040 850,960 880,860C920,760 960,660 890,525C850,490 780,465 700,450C800,432 900,448 1015,490C980,380 900,250 800,180C730,130 660,100 595,88Z" fill="#4a6cb3"/><circle cx="790" cy="310" r="90" fill="#4a6cb3"/>
<path d="M625,515C560,600 490,740 492,860C495,1000 560,1110 625,1199A557,557 0 0 0 850,1153C830,1060 800,950 820,850C835,800 860,760 887,733C800,760 720,800 655,865C620,760 610,640 625,515Z" fill="#ed1c24"/><circle cx="760" cy="610" r="86" fill="#ed1c24"/>
<g clip-path="url(#lgc)"><path d="M60,820Q500,1130 1200,980V1300H60Z" fill="#000" opacity=".085"/></g>
</g>
</svg>
</div></body></html>
